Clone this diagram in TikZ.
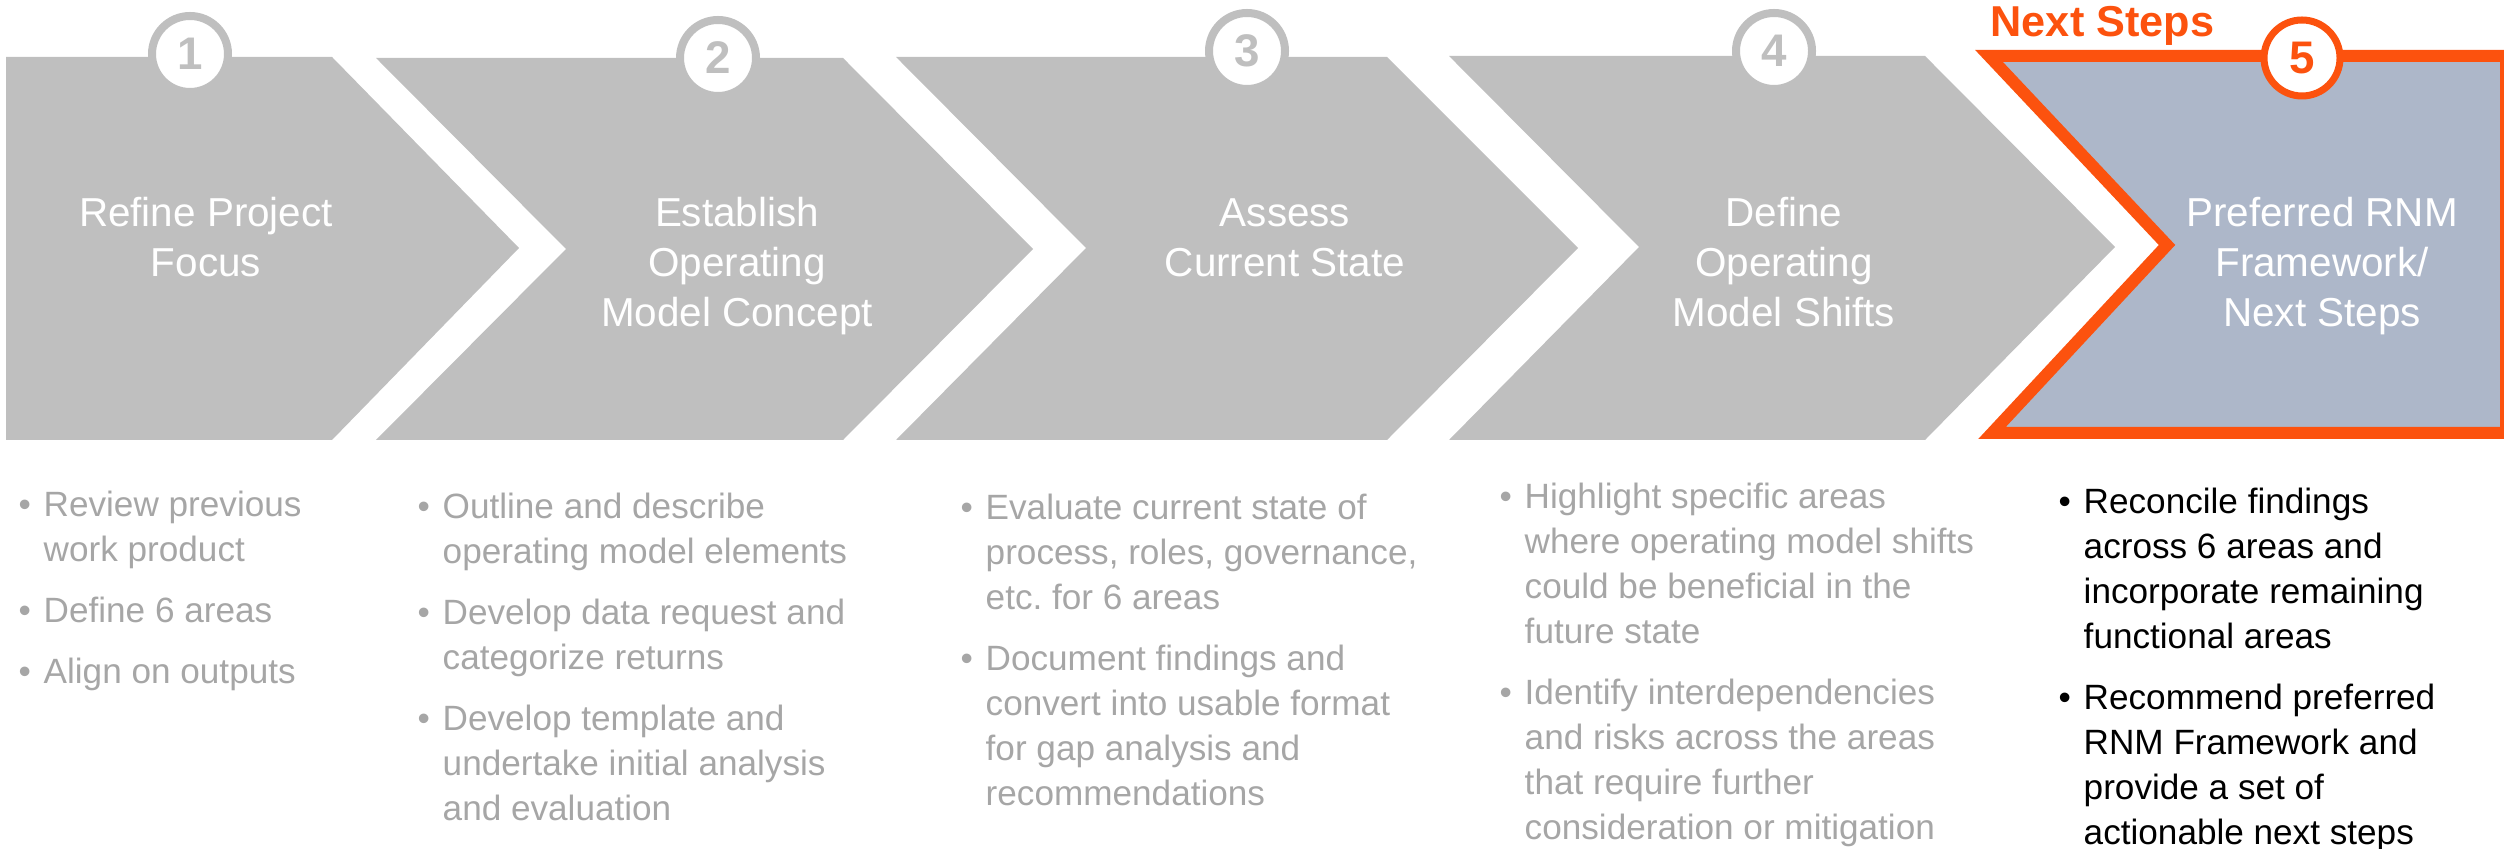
\documentclass[tikz,border=0pt]{standalone}
\usepackage{fontspec}
\setmainfont{Liberation Sans}

\definecolor{chevgray}{RGB}{191,191,191}
\definecolor{txtgray}{RGB}{166,166,166}
\definecolor{nextorange}{RGB}{252,82,14}
\definecolor{nextblue}{RGB}{173,183,201}

\newcommand{\bul}{\makebox[2.5mm][l]{\textbullet}}
\newcommand{\ind}{\makebox[2.5mm]{}}

\begin{document}
\begin{tikzpicture}[x=0.1mm, y=-0.1mm,
    chev/.style={fill=chevgray},
    num/.style={circle, draw=chevgray, line width=0.8mm, fill=white,
                minimum size=7.6mm, inner sep=0pt, text=chevgray,
                font=\fontsize{13}{13}\selectfont\bfseries},
    title/.style={anchor=base, inner sep=0pt, text=white,
                  font=\fontsize{11.5}{14.2}\selectfont},
    points/.style={anchor=base west, inner sep=0pt, text=txtgray,
                   font=\fontsize{10}{12.8}\selectfont},
  ]
  \useasboundingbox (0,0) rectangle (2504,849);

  % the five steps
  \fill[chev] (6,57) -- (332,57) -- (519,248) -- (332,440) -- (6,440) -- cycle;
  \fill[chev] (376,58) -- (843,58) -- (1033,249) -- (843,440) -- (376,440) -- (566,249) -- cycle;
  \fill[chev] (896,57) -- (1387,57) -- (1578,248) -- (1387,440) -- (896,440) -- (1086,248) -- cycle;
  \fill[chev] (1449,56) -- (1925,56) -- (2115,247) -- (1925,440) -- (1449,440) -- (1639,247) -- cycle;
  \filldraw[fill=nextblue, draw=nextorange, line width=1.2mm]
    (1989,56) -- (2506,56) -- (2506,433) -- (1992,433) -- (2167,245) -- cycle;

  \node[num] (c1) at (190,54) {1};
  \node[num] (c2) at (718,58) {2};
  \node[num] (c3) at (1247,51) {3};
  \node[num] (c4) at (1774,51) {4};
  \node[num, draw=nextorange, text=nextorange, line width=0.7mm] (c5) at (2302,58) {5};

  \node[anchor=base west, inner sep=0pt, text=nextorange,
        font=\fontsize{12.3}{12.3}\selectfont\bfseries] (next) at (1990,37) {Next Steps};

  \node[title] (t1) at (206,227) {\parbox[t]{6cm}{\centering Refine Project\\Focus}};
  \node[title] (t2) at (737,227) {\parbox[t]{6cm}{\centering Establish\\Operating\\Model Concept}};
  \node[title] (t3) at (1285,227) {\parbox[t]{6cm}{\centering Assess\\Current State}};
  \node[title] (t4) at (1784,227) {\parbox[t]{6cm}{\centering Define\\Operating\\Model Shifts}};
  \node[title] (t5) at (2322,227) {\parbox[t]{6cm}{\centering Preferred RNM\\Framework/\\Next Steps}};

  % what each step covers
  \node[points] (p1) at (18,517) {\parbox[t]{5cm}{\raggedright
    \bul Review previous\\\ind work product\\[1.6mm]
    \bul Define 6 areas\\[1.6mm]
    \bul Align on outputs}};
  \node[points] (p2) at (417,519) {\parbox[t]{5cm}{\raggedright
    \bul Outline and describe\\\ind operating model elements\\[1.6mm]
    \bul Develop data request and\\\ind categorize returns\\[1.6mm]
    \bul Develop template and\\\ind undertake initial analysis\\\ind and evaluation}};
  \node[points] (p3) at (960,520) {\parbox[t]{5cm}{\raggedright
    \bul Evaluate current state of\\\ind process, roles, governance,\\\ind etc.\ for 6 areas\\[1.6mm]
    \bul Document findings and\\\ind convert into usable format\\\ind for gap analysis and\\\ind recommendations}};
  \node[points] (p4) at (1499,509) {\parbox[t]{5cm}{\raggedright
    \bul Highlight specific areas\\\ind where operating model shifts\\\ind could be beneficial in the\\\ind future state\\[1.6mm]
    \bul Identify interdependencies\\\ind and risks across the areas\\\ind that require further\\\ind consideration or mitigation}};
  \node[points, text=black] (p5) at (2058,514) {\parbox[t]{5cm}{\raggedright
    \bul Reconcile findings\\\ind across 6 areas and\\\ind incorporate remaining\\\ind functional areas\\[1.6mm]
    \bul Recommend preferred\\\ind RNM Framework and\\\ind provide a set of\\\ind actionable next steps}};
\end{tikzpicture}
\end{document}
